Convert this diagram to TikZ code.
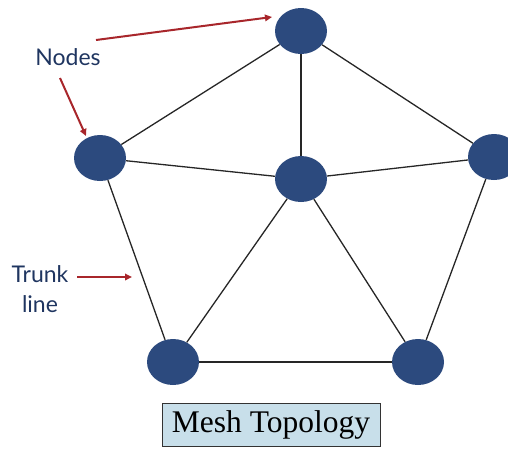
\documentclass[tikz,border=0pt]{standalone}
\usepackage{fontspec}
\setmainfont{Liberation Serif}
\newfontfamily\labelfont{Lato}
\usetikzlibrary{arrows.meta,shapes.geometric}
\definecolor{nodeblue}{HTML}{2C4A7E}
\definecolor{labelblue}{HTML}{1F3560}
\definecolor{arrowred}{HTML}{A8262B}
\definecolor{captionfill}{HTML}{C8DFEA}
\tikzset{
  meshnode/.style={ellipse, fill=nodeblue, minimum width=52pt, minimum height=46pt, inner sep=0pt},
  trunk/.style={draw=black!85, line width=1.3pt},
  pointer/.style={draw=arrowred, line width=2pt, -{Triangle[length=7pt,width=6.5pt]}},
  tag/.style={text=labelblue, font=\labelfont\fontsize{23}{30}\selectfont, align=center, inner sep=0pt},
}
\begin{document}
\begin{tikzpicture}[x=1pt,y=-1pt]
  \useasboundingbox (0,0) rectangle (508,448);
  % hosts of the mesh
  \node[meshnode] (top) at (301,31) {};
  \node[meshnode] (left) at (100,158) {};
  \node[meshnode] (mid) at (301,179) {};
  \node[meshnode] (right) at (494,157) {};
  \node[meshnode] (bl) at (173,362) {};
  \node[meshnode] (br) at (418,362) {};
  % trunk lines
  \draw[trunk] (top) -- (left);
  \draw[trunk] (top) -- (mid);
  \draw[trunk] (top) -- (right);
  \draw[trunk] (left) -- (mid);
  \draw[trunk] (mid) -- (right);
  \draw[trunk] (left) -- (bl);
  \draw[trunk] (mid) -- (bl);
  \draw[trunk] (mid) -- (br);
  \draw[trunk] (right) -- (br);
  \draw[trunk] (bl) -- (br);
  % annotations
  \node[tag] (nodes) at (68,57) {Nodes};
  \node[tag] (trunklbl) at (40,289) {Trunk\\line};
  \coordinate (a1s) at (96,40);
  \coordinate (a1e) at (272,17);
  \coordinate (a2s) at (60,78);
  \coordinate (a2e) at (86,136);
  \coordinate (a3s) at (77,277);
  \coordinate (a3e) at (132,277);
  \draw[pointer] (a1s) -- (a1e);
  \draw[pointer] (a2s) -- (a2e);
  \draw[pointer] (a3s) -- (a3e);
  % caption
  \node[draw=black!80, line width=0.8pt, fill=captionfill, minimum width=218pt, minimum height=43pt,
        font=\fontsize{31.5}{36}\selectfont, inner sep=0pt] (caption) at (271,424.5) {Mesh Topology};
\end{tikzpicture}
\end{document}
